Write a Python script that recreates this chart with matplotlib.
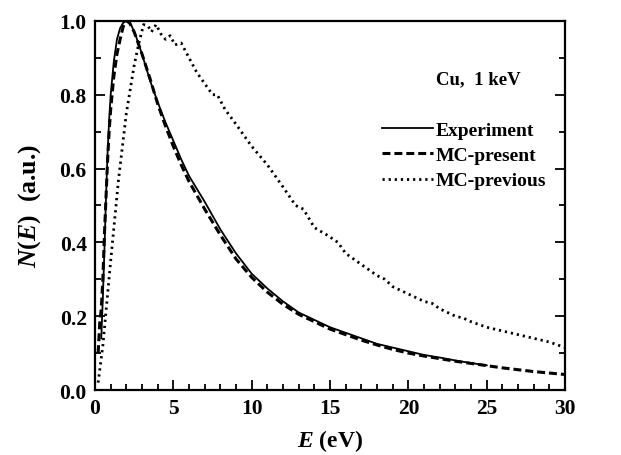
import matplotlib
matplotlib.use("Agg")
import matplotlib.pyplot as plt
from matplotlib.ticker import MultipleLocator

plt.rcParams["font.family"] = "Liberation Serif"
plt.rcParams["font.weight"] = "bold"
plt.rcParams["axes.labelweight"] = "bold"
plt.rcParams["mathtext.fontset"] = "custom"
plt.rcParams["mathtext.rm"] = "Liberation Serif:bold"
plt.rcParams["mathtext.it"] = "Liberation Serif:italic:bold"
plt.rcParams["mathtext.bf"] = "Liberation Serif:bold"

# Experiment
exp_e = [0.4, 0.5, 0.6, 0.7, 0.8, 0.9, 1.0, 1.2, 1.4, 1.6, 1.8, 2.0, 2.3, 2.6,
         3.0, 3.5, 4.0, 4.5, 5.0, 5.5, 6.0, 7.0, 8.0, 9.0, 10, 11, 12, 13, 14,
         15, 16, 17, 18, 19, 20, 21, 22, 23, 24, 25]
exp_n = [0.14, 0.25, 0.38, 0.52, 0.64, 0.73, 0.80, 0.89, 0.95, 0.98, 0.995, 1.0,
         0.99, 0.96, 0.91, 0.84, 0.78, 0.725, 0.675, 0.625, 0.58, 0.51, 0.435,
         0.37, 0.315, 0.275, 0.24, 0.21, 0.19, 0.17, 0.155, 0.14, 0.125, 0.115,
         0.105, 0.095, 0.088, 0.08, 0.073, 0.067]

# MC-present
mcp_e = [0.2, 0.3, 0.4, 0.5, 0.6, 0.7, 0.8, 0.9, 1.0, 1.2, 1.4, 1.6, 1.8, 2.0,
         2.2, 2.5, 3.0, 3.5, 4.0, 4.5, 5.0, 5.5, 6.0, 7.0, 8.0, 9.0, 10, 11, 12,
         13, 14, 15, 16, 17, 18, 19, 20, 21, 22, 23, 24, 25, 26, 27, 28, 29, 30]
mcp_n = [0.10, 0.18, 0.22, 0.30, 0.42, 0.52, 0.62, 0.70, 0.76, 0.85, 0.91, 0.95,
         0.985, 1.0, 0.995, 0.97, 0.91, 0.845, 0.775, 0.715, 0.66, 0.61, 0.565,
         0.49, 0.42, 0.355, 0.305, 0.265, 0.232, 0.205, 0.185, 0.165, 0.15,
         0.135, 0.122, 0.11, 0.10, 0.092, 0.085, 0.078, 0.072, 0.066, 0.06,
         0.055, 0.05, 0.046, 0.042]

# MC-previous
mcv_e = [0.2, 0.5, 1.0, 1.5, 2.0, 2.5, 2.8, 3.1, 3.4, 3.6, 3.9, 4.2, 4.5, 4.8,
         5.1, 5.5, 6.0, 6.5, 7.0, 7.5, 7.8, 8.3, 9, 10, 11, 12, 12.8, 13.3, 14,
         14.8, 15.5, 16, 17, 18, 18.5, 19, 20, 21, 21.5, 22, 23, 23.5, 24, 25,
         26, 27, 28, 29, 30]
mcv_n = [0.02, 0.12, 0.35, 0.57, 0.75, 0.88, 0.94, 0.99, 0.985, 0.97, 0.99,
         0.965, 0.95, 0.96, 0.935, 0.94, 0.90, 0.86, 0.83, 0.80, 0.80, 0.76,
         0.72, 0.66, 0.61, 0.55, 0.50, 0.49, 0.44, 0.42, 0.40, 0.37, 0.34, 0.31,
         0.30, 0.28, 0.26, 0.24, 0.235, 0.22, 0.20, 0.195, 0.185, 0.17, 0.16,
         0.15, 0.14, 0.13, 0.115]

fig = plt.figure(figsize=(6.21, 4.56), dpi=100)
ax = fig.add_axes([0.153, 0.1425, 0.757, 0.8095])

ax.plot(exp_e, exp_n, color="black", linestyle="-", linewidth=1.3, label="Experiment")
ax.plot(mcp_e, mcp_n, color="black", linestyle=(0, (2.6, 1.3)), linewidth=2.2, label="MC-present")
ax.plot(mcv_e, mcv_n, color="black", linestyle=(0, (0.8, 1.4)), linewidth=2.0, label="MC-previous")

ax.set_xlim(0, 30)
ax.set_ylim(0, 1.0)
ax.xaxis.set_major_locator(MultipleLocator(5))
ax.xaxis.set_minor_locator(MultipleLocator(1))
ax.yaxis.set_major_locator(MultipleLocator(0.2))
ax.yaxis.set_minor_locator(MultipleLocator(0.1))
ax.tick_params(which="both", direction="in", right=True, top=False, labelsize=15.5, width=1.3)
ax.tick_params(which="major", length=7, pad=6)
ax.tick_params(which="minor", length=4)
ax.yaxis.set_major_formatter(plt.FuncFormatter(lambda v, p: f"{v:.1f}"))
for lbl in ax.get_xticklabels() + ax.get_yticklabels():
    lbl.set_fontweight("bold")
for s in ax.spines.values():
    s.set_linewidth(1.6)

ax.set_xlabel("$E$ (eV)", fontsize=17, labelpad=6)
ax.set_ylabel(r"$N(E)$  (a.u.)", fontsize=18.5, labelpad=12)

ax.text(0.815, 0.843, "Cu,  1 keV", transform=ax.transAxes, ha="center", va="center",
        fontsize=13.5, fontweight="bold")
leg = ax.legend(loc="upper left", bbox_to_anchor=(0.59, 0.755), frameon=False,
                fontsize=14, handlelength=2.6, handletextpad=0.15,
                labelspacing=0.4, borderpad=0)
for t in leg.get_texts():
    t.set_fontweight("bold")

fig.savefig("out.png", dpi=100)
